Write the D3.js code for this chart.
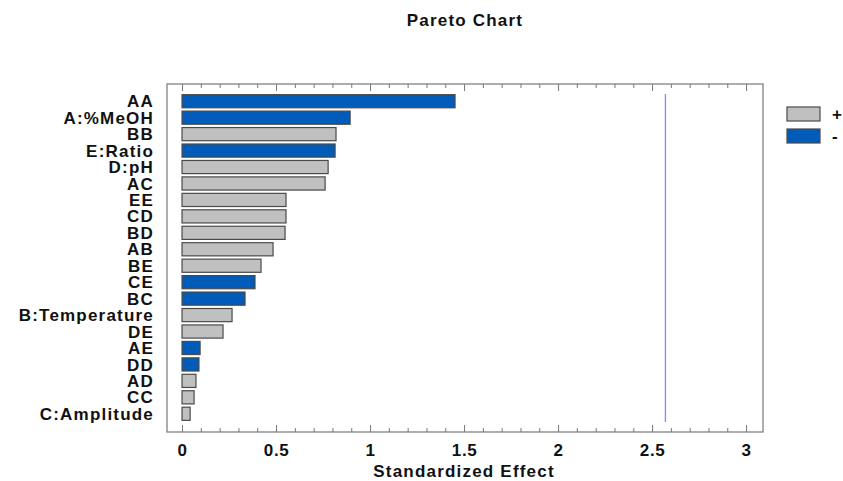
<!DOCTYPE html>
<html>
<head>
<meta charset="utf-8">
<script src="https://cdn.jsdelivr.net/npm/d3@7"></script>
<style>
  body { margin: 0; background: #fff; }
  text { font-family: "Liberation Sans", Arial, sans-serif; font-weight: bold; fill: #111; }
</style>
</head>
<body>
<div id="chart"></div>
<script>
const terms = ["AA", "A:%MeOH", "BB", "E:Ratio", "D:pH", "AC", "EE", "CD", "BD", "AB",
  "BE", "CE", "BC", "B:Temperature", "DE", "AE", "DD", "AD", "CC", "C:Amplitude"];
const effects = [1.452, 0.894, 0.819, 0.814, 0.777, 0.761, 0.553, 0.553, 0.548, 0.484,
  0.42, 0.388, 0.335, 0.266, 0.218, 0.096, 0.09, 0.074, 0.064, 0.043];
const signs = ["-", "-", "+", "-", "+", "+", "+", "+", "+", "+",
  "+", "-", "-", "+", "+", "-", "-", "+", "+", "+"];
const xTicks = [0, 0.5, 1, 1.5, 2, 2.5, 3];
const criticalValue = 2.571;

const data = terms.map((t, i) => ({ term: t, effect: effects[i], sign: signs[i] }));

const W = 843, H = 481;
const margin = { top: 84, right: 80, bottom: 49, left: 167 };
const width = W - margin.left - margin.right;
const height = H - margin.top - margin.bottom;

const color = { "+": "#c0c0c0", "-": "#005cb8" };

const svg = d3.select("#chart").append("svg")
  .attr("width", W)
  .attr("height", H);

svg.append("text")
  .attr("x", 465)
  .attr("y", 26)
  .attr("text-anchor", "middle")
  .style("font-size", "17px")
  .style("letter-spacing", "1.2px")
  .text("Pareto Chart");

const g = svg.append("g")
  .attr("transform", `translate(${margin.left},${margin.top})`);

// Scales
const x = d3.scaleLinear()
  .domain([-0.08, 3.09])
  .range([0, width]);

const y = d3.scaleBand()
  .domain(terms)
  .range([9, height - 10])
  .paddingInner(0.2)
  .paddingOuter(0.1);

// Frame
g.append("rect")
  .attr("width", width)
  .attr("height", height)
  .attr("fill", "none")
  .attr("stroke", "#777")
  .attr("stroke-width", 1.2);

// Ticks (inward, bottom and top)
const minor = d3.range(0, 3.0001, 0.1).filter(v => !xTicks.some(t => Math.abs(t - v) < 1e-6));

g.append("g")
  .attr("transform", `translate(0,${height})`)
  .call(d3.axisBottom(x).tickValues(xTicks).tickSizeInner(-7).tickSizeOuter(0).tickPadding(12).tickFormat(d3.format("")))
  .call(a => a.select(".domain").remove())
  .call(a => a.selectAll("line").attr("stroke", "#777"))
  .call(a => a.selectAll("text").style("font-size", "17px").style("letter-spacing", "0.6px")
    .attr("font-family", null).attr("fill", "#111"));

g.append("g")
  .attr("transform", `translate(0,${height})`)
  .call(d3.axisBottom(x).tickValues(minor).tickSizeInner(-4).tickSizeOuter(0).tickFormat(""))
  .call(a => a.select(".domain").remove())
  .call(a => a.selectAll("line").attr("stroke", "#777"));

g.append("g")
  .call(d3.axisTop(x).tickValues(xTicks).tickSizeInner(-7).tickSizeOuter(0).tickFormat(""))
  .call(a => a.select(".domain").remove())
  .call(a => a.selectAll("line").attr("stroke", "#777"));

g.append("g")
  .call(d3.axisTop(x).tickValues(minor).tickSizeInner(-4).tickSizeOuter(0).tickFormat(""))
  .call(a => a.select(".domain").remove())
  .call(a => a.selectAll("line").attr("stroke", "#777"));

// Bars
g.selectAll(".bar")
  .data(data)
  .enter()
  .append("rect")
  .attr("class", "bar")
  .attr("x", x(0))
  .attr("y", d => y(d.term))
  .attr("width", d => x(d.effect) - x(0))
  .attr("height", y.bandwidth())
  .attr("fill", d => color[d.sign])
  .attr("stroke", "#4a4a4a")
  .attr("stroke-width", 1.2);

// Term labels
g.selectAll(".lbl")
  .data(data)
  .enter()
  .append("text")
  .attr("class", "lbl")
  .attr("x", -13)
  .attr("y", d => y(d.term) + y.bandwidth() / 2)
  .attr("dy", "0.36em")
  .attr("text-anchor", "end")
  .style("font-size", "17px")
  .style("letter-spacing", "1.2px")
  .text(d => d.term);

// Critical value line
g.append("line")
  .attr("x1", x(criticalValue))
  .attr("x2", x(criticalValue))
  .attr("y1", 10)
  .attr("y2", height - 10)
  .attr("stroke", "#8585ff")
  .attr("stroke-width", 1.3);

// Axis title
svg.append("text")
  .attr("x", margin.left + x(1.5))
  .attr("y", 477)
  .attr("text-anchor", "middle")
  .style("font-size", "17px")
  .style("letter-spacing", "1.2px")
  .text("Standardized Effect");

// Legend
const legend = svg.append("g").attr("transform", "translate(787,107)");
["+", "-"].forEach((s, i) => {
  legend.append("rect")
    .attr("x", 0)
    .attr("y", i * 22)
    .attr("width", 33)
    .attr("height", 14)
    .attr("fill", color[s])
    .attr("stroke", "#4a4a4a")
    .attr("stroke-width", 1.2);
  legend.append("text")
    .attr("x", 45)
    .attr("y", i * 22 + 7)
    .attr("dy", "0.36em")
    .style("font-size", "17px")
    .text(s);
});
</script>
</body>
</html>
